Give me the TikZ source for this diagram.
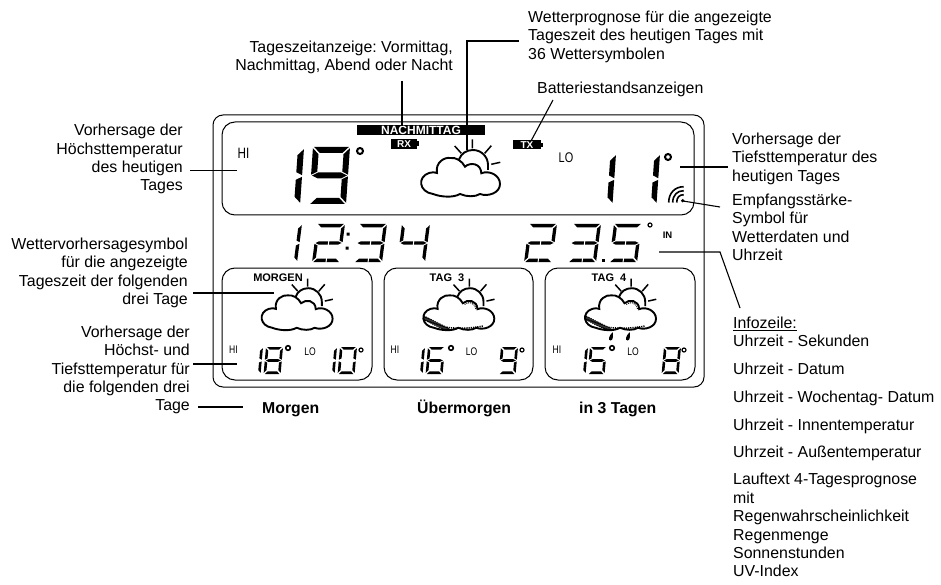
\documentclass[tikz,border=0pt]{standalone}
\usepackage{fontspec}
\setmainfont{Liberation Sans}
\frenchspacing
\def\SgA{\fill (1.2,0) -- ({\dW-1.2},0) -- ({\dW-1.2-\dT},\dT) -- ({1.2+\dT},\dT) -- cycle;}
\def\SgD{\fill (1.2,\dH) -- ({\dW-1.2},\dH) -- ({\dW-1.2-\dT},{\dH-\dT}) -- ({1.2+\dT},{\dH-\dT}) -- cycle;}
\def\SgF{\fill (0,1.2) -- (\dT,{1.2+\dT}) -- (\dT,{\dH/2-\dT/2-.8}) -- (0,{\dH/2-.8}) -- cycle;}
\def\SgB{\fill (\dW,1.2) -- ({\dW-\dT},{1.2+\dT}) -- ({\dW-\dT},{\dH/2-\dT/2-.8}) -- (\dW,{\dH/2-.8}) -- cycle;}
\def\SgE{\fill (0,{\dH-1.2}) -- (\dT,{\dH-1.2-\dT}) -- (\dT,{\dH/2+\dT/2+.8}) -- (0,{\dH/2+.8}) -- cycle;}
\def\SgC{\fill (\dW,{\dH-1.2}) -- ({\dW-\dT},{\dH-1.2-\dT}) -- ({\dW-\dT},{\dH/2+\dT/2+.8}) -- (\dW,{\dH/2+.8}) -- cycle;}
\def\SgG{\fill (1,{\dH/2}) -- ({1+\dT},{\dH/2-\dT/2}) -- ({\dW-1-\dT},{\dH/2-\dT/2}) -- ({\dW-1},{\dH/2}) -- ({\dW-1-\dT},{\dH/2+\dT/2}) -- ({1+\dT},{\dH/2+\dT/2}) -- cycle;}
\def\SgS{\draw[white,line width=1] ({\dW/2},{\dH-\dT-.5}) -- ({\dW/2},{\dH+.5}) ({\dW/2},{\dH/2-\dT/2-.5}) -- ({\dW/2},{\dH/2+\dT/2+.5});}
\def\dgZero{\SgA\SgB\SgC\SgD\SgE\SgF}
\def\dgOne{\SgB\SgC}
\def\dgTwo{\SgA\SgB\SgG\SgE\SgD}
\def\dgThree{\SgA\SgB\SgG\SgC\SgD}
\def\dgFour{\SgF\SgG\SgB\SgC}
\def\dgFive{\SgA\SgF\SgG\SgC\SgD}
\def\dgSix{\SgA\SgF\SgG\SgE\SgC\SgD}
\def\dgEight{\SgA\SgB\SgC\SgD\SgE\SgF\SgG}
\def\dgNine{\SgA\SgB\SgC\SgD\SgF\SgG}
% x y W H T slant digit
\def\lcd#1#2#3#4#5#6#7{\begin{scope}[shift={(#1,#2)},xslant=#6]\def\dW{#3}\def\dH{#4}\def\dT{#5}#7\end{scope}}
\def\big#1#2#3{\lcd{#1}{#2}{37}{#3}{6}{.07}}
\def\fc#1#2{\lcd{#1}{347}{17}{27}{2.6}{.09}{#2}}
\def\tm#1#2{\lcd{#1}{224}{28}{38}{3.3}{.13}{#2\SgS}}
\def\CloudPath{(-40,29) .. controls (-54,27) and (-56,12) .. (-44,8) .. controls (-41,7) and (-38,7) .. (-36,8) .. controls (-38,-3) and (-28,-8) .. (-23,-7) .. controls (-17,-8) and (-11,-4) .. (-8,1.7) .. controls (-3,-3) and (8,-2) .. (8.3,8.3) .. controls (16,5) and (27,10) .. (27,19) .. controls (27,28) and (15,32) .. (7,29) .. controls (2,32) and (-6,32) .. (-13,29) .. controls (-20,33) and (-32,32) .. (-40,29) -- cycle}
\def\wcloud#1#2#3#4{\begin{scope}[shift={(#1,#2)},scale=#3]
 \draw[sunline] (-14,-5.5) .. controls (-12,-11.5) and (-6.5,-15) .. (0,-15) .. controls (8.3,-15) and (15,-8.3) .. (15,0) -- (15,5);
 \draw[rayline] (-18.3,-19) -- (-11.7,-11.7) (-.7,-25.7) -- (-.7,-16.7) (18.3,-19.3) -- (11.7,-11.7) (27.3,-2.7) -- (18.3,-.7);
 \fill[white] \CloudPath;
 #4
 \draw[sunline] \CloudPath;
\end{scope}}
\def\hatched{\begin{scope}\clip \CloudPath;
 \foreach \hx in {-57,-55,...,-25} {\draw[line width=.8] (\hx,{13+(\hx+56)*.5}) -- ++(6,8);}
 \draw[line width=1.6,dash pattern=on 1.2 off 1] (-26,28.5) .. controls (-15,30) and (0,30) .. (15,27);
 \draw[line width=1,dash pattern=on 1 off 1] (-6,3) .. controls (-2,-.5) and (5,.5) .. (6.5,8);
\end{scope}}
\def\raindrop#1#2{\fill (#1+2,#2-5) .. controls (#1+2,#2-2) and (#1+3,#2+3) .. (#1,#2+3.5) .. controls (#1-3,#2+3.5) and (#1-2,#2-1) .. (#1+2,#2-5) -- cycle;}
\tikzset{
 sunline/.style={line width=1.9pt},
 rayline/.style={line width=1.5pt},
 frameline/.style={line width=1pt,rounded corners=#1},
 conn/.style={line width=1.1pt},
 lab/.style={inner sep=0pt,font=\fontsize{15.9}{18.4}\selectfont},
 labr/.style={lab,align=right,anchor=north east},
 labl/.style={lab,align=left,anchor=north west},
 boldlab/.style={inner sep=0pt,font=\fontsize{15.8}{18}\selectfont\bfseries,anchor=base west},
 lcdbold/.style={inner sep=0pt,font=\fontsize{11}{12}\selectfont\bfseries},
 thinlab/.style={inner sep=0pt,font=\fontsize{#1}{#1}\selectfont,transform shape,xscale=.78},
 deg/.style={line width=#1},
}
\def\thickul#1{\setbox0\hbox{#1}\rlap{\rule[-2.6pt]{\wd0}{1.2pt}}\box0}
\begin{document}
\begin{tikzpicture}[x=1pt,y=-1pt]
\path[use as bounding box,fill=white] (0,0) rectangle (941,585);
% frames
\draw[frameline=10pt] (213,115) rectangle (704,387);
\draw[frameline=13pt] (222,122) rectangle (694,215);
\draw[frameline=13pt] (222,268) rectangle (372,380);
\draw[frameline=13pt] (384,268) rectangle (533,380);
\draw[frameline=13pt] (545,268) rectangle (695,380);
% top LCD
\node[fill=black,text=white,minimum width=128pt,minimum height=10pt,inner sep=0pt,font=\fontsize{12}{12}\selectfont\bfseries] (bar) at (421,130) {NACHMITTAG};
\node[fill=black,text=white,minimum width=26pt,minimum height=10pt,inner sep=0pt,font=\fontsize{10}{10}\selectfont\bfseries] (rx) at (404,144) {RX};
\fill (417,141.5) rectangle (419,146.5);
\node[fill=black,text=white,minimum width=28pt,minimum height=9pt,inner sep=0pt,font=\fontsize{10}{10}\selectfont\bfseries] (tx) at (527,145) {TX};
\fill (541,143) rectangle (543,147);
\node[thinlab=15] (hi) at (243.5,153) {HI};
\node[thinlab=14] (lo) at (566,158) {LO};
\big{267}{148}{56}{\dgOne}
\big{313}{147}{57}{\dgNine}
\draw[deg=2pt] (360,151) circle[radius=3];
\lcd{579}{154}{37}{50}{5.5}{.07}{\dgOne}
\lcd{623}{154}{37}{50}{5.5}{.07}{\dgOne}
\draw[deg=2pt] (668,157) circle[radius=3];
\wcloud{473}{165}{1}{}
% signal
\fill (682.7,200.7) circle[radius=1.8];
\foreach \r in {6,10,14}{\draw[line width=1.6pt] (682.7-\r,202.5) .. controls (682.7-\r,200.7-.55*\r) and (682.7-.55*\r,200.7-\r) .. (683.7,200.7-\r);}
% time row
\tm{274}{\dgOne}
\tm{317}{\dgTwo}
\fill (346.5,232.5) rectangle (349.5,235.5) (345.5,246.5) rectangle (348.5,249.5);
\tm{359}{\dgThree}
\tm{402}{\dgFour}
\tm{529}{\dgTwo}
\tm{573}{\dgThree}
\fill (601.5,258.5) rectangle (604.5,262);
\tm{614}{\dgFive}
\draw[deg=1.2pt] (650,225) circle[radius=2];
\node[inner sep=0pt,font=\fontsize{9.5}{9.5}\selectfont\bfseries] (in) at (667.5,235.5) {IN};
% panel 1
\node[lcdbold,anchor=base] (p1) at (278,281) {MORGEN};
\wcloud{308.3}{301.7}{.9}{}
\node[thinlab=11] (h1) at (233.5,349.5) {HI};
\node[thinlab=11] (l1) at (310,351.5) {LO};
\fc{246}{\dgOne}\fc{266}{\dgEight}
\draw[deg=1.6pt] (288,348) circle[radius=2.3];
\fc{320}{\dgOne}\fc{340}{\dgZero}
\draw[deg=1.2pt] (361,350) circle[radius=2];
% panel 2
\node[lcdbold,anchor=base] (p2) at (447,281) {TAG\ \ 3};
\wcloud{470}{301.7}{.9}{\hatched}
\node[thinlab=11] (h2) at (395,349.5) {HI};
\node[thinlab=11] (l2) at (471.5,351.5) {LO};
\fc{408}{\dgOne}\fc{428}{\dgSix}
\draw[deg=1.6pt] (451,348) circle[radius=2.3];
\fc{501}{\dgNine}
\draw[deg=1.2pt] (522,350) circle[radius=2];
% panel 3
\node[lcdbold,anchor=base] (p3) at (609,281) {TAG\ \ 4};
\wcloud{631.7}{301.7}{.9}{\hatched}
\raindrop{610.7}{337}
\raindrop{627.7}{337}
\node[thinlab=11] (h3) at (557,349.5) {HI};
\node[thinlab=11] (l3) at (633,351.5) {LO};
\fc{571}{\dgOne}\fc{590}{\dgFive}
\draw[deg=1.6pt] (612,348) circle[radius=2.3];
\fc{664}{\dgEight}
\draw[deg=1.2pt] (684,350) circle[radius=2];
% labels
\node[labl] (wp) at (528,10.5) {Wetterprognose für die angezeigte\\Tageszeit des heutigen Tages mit\\36 Wettersymbolen};
\node[labr] (tz) at (453,40.5) {Tageszeitanzeige: Vormittag,\\Nachmittag, Abend oder Nacht};
\node[labl] (ba) at (537,81.5) {Batteriestandsanzeigen};
\node[labr] (v1) at (183,124) {Vorhersage der\\Höchsttemperatur\\des heutigen\\Tages};
\node[labr] (v2) at (188,237.5) {Wettervorhersagesymbol\\für die angezeigte\\Tageszeit der folgenden\\drei Tage};
\node[labr] (v3) at (190,325.5) {Vorhersage der\\Höchst- und\\Tiefsttemperatur für\\die folgenden drei\\Tage};
\node[labl] (v4) at (732,132.5) {Vorhersage der\\Tiefsttemperatur des\\heutigen Tages};
\node[labl] (em) at (732,193.5) {Empfangsstärke-\\Symbol für\\Wetterdaten und\\Uhrzeit};
\node[labl] (iz) at (733,316.5) {\thickul{Infozeile:}\\Uhrzeit - Sekunden\\[9.4pt]Uhrzeit - Datum\\[9.4pt]Uhrzeit - Wochentag- Datum\\[9.4pt]Uhrzeit - Innentemperatur\\[9.4pt]Uhrzeit - Außentemperatur\\[8.6pt]Lauftext 4-Tagesprognose\\mit\\Regenwahrscheinlichkeit\\Regenmenge\\Sonnenstunden\\UV-Index};
\node[boldlab] (b1) at (262,413) {Morgen};
\node[boldlab] (b2) at (417,413) {Übermorgen};
\node[boldlab] (b3) at (579,413) {in 3 Tagen};
% connector ends
\coordinate (c1a) at (519,41); \coordinate (c1b) at (467,41); \coordinate (c1c) at (467,150);
\coordinate (c2a) at (402,81); \coordinate (c2b) at (402,126);
\coordinate (c3a) at (553,100); \coordinate (c3b) at (531,141);
\coordinate (c4a) at (680,167); \coordinate (c4b) at (728,167);
\coordinate (c5a) at (720,207); \coordinate (c5b) at (683,201);
\coordinate (c6a) at (190,170.5); \coordinate (c6b) at (237,170.5);
\coordinate (c7a) at (193,293); \coordinate (c7b) at (274,293);
\coordinate (c8a) at (193,364); \coordinate (c8b) at (237,364);
\coordinate (c9a) at (198,407); \coordinate (c9b) at (243,407);
\coordinate (c10a) at (659,252); \coordinate (c10b) at (720,252); \coordinate (c10c) at (740,308);
\draw[conn] (c1a) -- (c1b) -- (c1c);
\draw[conn] (c2a) -- (c2b);
\draw[conn] (c3a) -- (c3b);
\draw[conn] (c4a) -- (c4b);
\draw[conn] (c5a) -- (c5b);
\draw[conn] (c6a) -- (c6b);
\draw[conn] (c7a) -- (c7b);
\draw[conn] (c8a) -- (c8b);
\draw[conn] (c9a) -- (c9b);
\draw[conn] (c10a) -- (c10b) -- (c10c);
\end{tikzpicture}
\end{document}
